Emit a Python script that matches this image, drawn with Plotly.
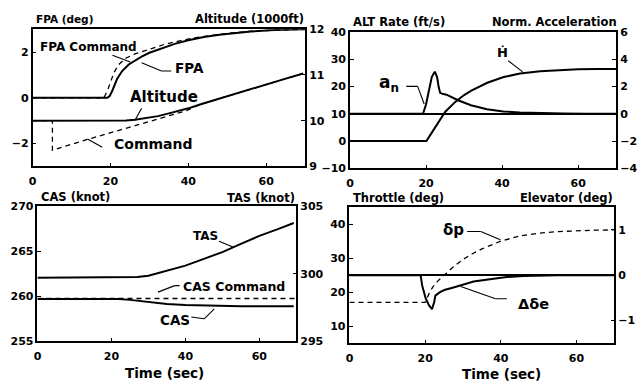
import plotly.graph_objects as go

W, H = 637, 388

# ---------------- data ----------------
# Top-left: flight path angle (deg, left) and altitude (1000 ft, right)
fpa_t = [0, 19.2, 19.8, 20.5, 21.7, 23.0, 24.7, 26.5, 28.0, 30.0, 32.0, 34.0, 36.5, 40.0, 44.0, 48.0, 52.0, 56.0, 62.0, 70.0]
fpa = [0, 0, 0.08, 0.32, 0.82, 1.17, 1.46, 1.66, 1.80, 1.97, 2.10, 2.22, 2.36, 2.52, 2.66, 2.76, 2.84, 2.90, 2.96, 3.0]
fpa_cmd_t = [0, 18.3, 19.2, 20.0, 20.9, 22.1, 23.8, 26.3, 29.7, 33.9, 38.0, 42.0, 48.0, 56.0, 62.0, 70.0]
fpa_cmd = [0, 0, 0.30, 0.72, 1.10, 1.45, 1.72, 1.92, 2.12, 2.34, 2.50, 2.63, 2.78, 2.91, 2.96, 3.0]
alt_t = [0, 20, 24, 26.3, 29, 32.2, 35, 37.3, 40, 43.2, 48.2, 52, 56, 60, 65, 69.5]
alt = [10.0, 10.0, 10.005, 10.02, 10.05, 10.10, 10.16, 10.21, 10.27, 10.36, 10.49, 10.59, 10.70, 10.79, 10.92, 11.03]
alt_cmd_t = [0, 5.1, 5.1, 13.7, 26.3, 32.2, 39.5, 43.2, 48.2, 52, 56, 60, 65, 69.5]
alt_cmd = [10.0, 10.0, 9.355, 9.58, 9.89, 10.03, 10.22, 10.36, 10.49, 10.59, 10.70, 10.79, 10.92, 11.03]

# Top-right: altitude rate (ft/s, left) and normal acceleration (right)
hdot_t = [0, 20.1, 21.6, 23.3, 25.0, 27.6, 30.0, 31.9, 34.0, 36.1, 40.4, 44.7, 50.0, 54.8, 60.0, 65.0, 70.0]
hdot = [0, 0, 3.3, 7.0, 10.7, 14.3, 16.9, 18.5, 20.1, 21.4, 23.5, 24.8, 25.6, 26.1, 26.4, 26.5, 26.5]
an_t = [0, 19.2, 20.0, 20.8, 21.5, 22.3, 22.9, 23.3, 23.7, 24.5, 25.4, 28.4, 31.8, 36.0, 40.3, 44.6, 50, 56, 62, 70]
an = [0, 0, 0.7, 1.77, 2.7, 3.1, 2.7, 2.0, 1.54, 1.45, 1.41, 1.0, 0.63, 0.34, 0.18, 0.10, 0.05, 0.02, 0.01, 0]

# Bottom-left: CAS (knot, left) and TAS (knot, right)
cas_cmd_t = [0, 70]
cas_cmd = [259.75, 259.75]
cas_t = [0, 22, 25, 28, 31, 35, 40, 46, 55, 69.3]
cas = [259.7, 259.7, 259.6, 259.45, 259.3, 259.15, 259.02, 258.95, 258.9, 258.88]
tas_t = [0, 24, 27, 30, 35, 40, 45, 50, 55, 60, 65, 69.3]
tas = [299.7, 299.7, 299.75, 299.85, 300.2, 300.6, 301.1, 301.6, 302.2, 302.8, 303.3, 303.75]

# Bottom-right: throttle (deg, left) and elevator increment (deg, right)
dp_t = [0, 20.0, 21.0, 22.0, 23.2, 25.0, 27.5, 30, 32.5, 35, 37.5, 40, 45, 50, 55, 60, 65, 70]
dp = [17, 17, 19.5, 21.5, 23.1, 24.9, 27.5, 29.6, 31.3, 32.7, 33.9, 35.0, 36.5, 37.3, 37.8, 38.1, 38.2, 38.3]
dde_t = [0, 18.8, 19.2, 20.1, 21.0, 21.8, 22.4, 22.7, 24.0, 25.3, 27.5, 29.3, 32.8, 37.1, 41.6, 46, 50, 55, 70]
dde = [0, 0, -0.22, -0.50, -0.66, -0.75, -0.59, -0.45, -0.37, -0.32, -0.27, -0.23, -0.14, -0.09, -0.04, -0.02, -0.01, 0, 0]

x_ticks = [0, 20, 40, 60]

# ---------------- figure ----------------
FONT = "DejaVu Sans"
fig = go.Figure()


def line(x, y, xa, ya, dashed=False):
    fig.add_trace(go.Scatter(
        x=x, y=y, xaxis=xa, yaxis=ya, mode="lines", showlegend=False, hoverinfo="skip",
        line=dict(color="black", width=1.3 if dashed else 2.0,
                  dash="5px,4px" if dashed else "solid")))


line(fpa_cmd_t, fpa_cmd, "x", "y", dashed=True)
line(fpa_t, fpa, "x", "y")
line(alt_cmd_t, alt_cmd, "x", "y2", dashed=True)
line(alt_t, alt, "x", "y2")

line(hdot_t, hdot, "x2", "y3")
line(an_t, an, "x2", "y4")

line(cas_cmd_t, cas_cmd, "x3", "y5", dashed=True)
line(cas_t, cas, "x3", "y5")
line(tas_t, tas, "x3", "y6")

line(dp_t, dp, "x4", "y7", dashed=True)
line(dde_t, dde, "x4", "y8")


def px(v):
    return v / W


def py(v):
    return 1 - v / H


tickfont = dict(family=FONT, size=11, color="black", weight="bold")
common = dict(showline=True, linecolor="black", linewidth=1.5, ticks="inside", ticklen=4,
              tickwidth=1.3, tickcolor="black", showgrid=False, zeroline=False,
              tickfont=tickfont, fixedrange=True)


def xax(dom, anchor):
    return dict(common, domain=dom, anchor=anchor, range=[0, 70], tickvals=x_ticks,
                mirror=True, ticklabelstandoff=4)


def yax(dom, anchor, rng, dtick, side="left", overlay=None, zero=False):
    d = dict(common, anchor=anchor, range=rng, dtick=dtick, side=side)
    if overlay:
        d["overlaying"] = overlay
    else:
        d["domain"] = dom
    if zero:
        d.update(zeroline=True, zerolinecolor="black", zerolinewidth=1.8)
    return d


xd1 = [px(29), px(306)]
yd1 = [py(166), py(24)]
xd2 = [px(351.5), px(622)]
yd2 = [py(168), py(27)]
xd3 = [px(34), px(297)]
yd3 = [py(347), py(207)]
xd4 = [px(351), px(620)]
yd4 = [py(349), py(208)]

fig.update_layout(
    width=W, height=H, margin=dict(l=0, r=0, t=0, b=0),
    paper_bgcolor="white", plot_bgcolor="white", showlegend=False,
    xaxis=xax(xd1, "y"),
    yaxis=yax(yd1, "x", [-3, 3], 2),
    yaxis2=yax(None, "x", [9, 12], 1, side="right", overlay="y"),
    xaxis2=xax(xd2, "y3"),
    yaxis3=yax(yd2, "x2", [-10, 40], 10),
    yaxis4=yax(None, "x2", [-4, 6], 2, side="right", overlay="y3", zero=True),
    xaxis3=xax(xd3, "y5"),
    yaxis5=yax(yd3, "x3", [255, 270], 5),
    yaxis6=yax(None, "x3", [295, 305], 5, side="right", overlay="y5"),
    xaxis4=xax(xd4, "y7"),
    yaxis7=yax(yd4, "x4", [5, 45], 10),
    yaxis8=yax(None, "x4", [-1.5, 1.5], 1, side="right", overlay="y7", zero=True),
)

# ---------------- axis titles (paper) ----------------
titles = [
    ("FPA (deg)", 30, 13, "left", 10.5),
    ("Altitude (1000ft)", 307, 13, "right", 11.5),
    ("ALT Rate (ft/s)", 353, 17, "left", 11.5),
    ("Norm. Acceleration", 625, 17, "right", 11.5),
    ("CAS (knot)", 36, 198, "left", 11.5),
    ("TAS (knot)", 298, 199, "right", 11.5),
    ("Throttle (deg)", 353, 199, "left", 11.5),
    ("Elevator (deg)", 621, 199, "right", 11.5),
    ("Time (sec)", 163, 380, "center", 13.5),
    ("Time (sec)", 505, 381, "center", 13.5),
]
for txt, x, y, anc, size in titles:
    fig.add_annotation(text=txt, xref="paper", yref="paper", x=px(x), y=py(y),
                       xanchor=anc, yanchor="middle", showarrow=False,
                       font=dict(family=FONT, size=size, color="black", weight="bold"))

# ---------------- curve labels (data coords) ----------------
labels = [
    ("FPA Command", "x", "y", 1.5, 2.2, "left", 12),
    ("FPA", "x", "y", 36, 1.32, "left", 13.5),
    ("Altitude", "x", "y", 24.5, 0.02, "left", 15),
    ("Command", "x", "y", 20.5, -2.02, "left", 14),
    ("a<sub>n</sub>", "x2", "y3", 7.0, 21.0, "left", 17),
    ("Ḣ", "x2", "y3", 40, 32.5, "center", 13),
    ("TAS", "x3", "y5", 45.4, 266.7, "center", 12),
    ("CAS Command", "x3", "y5", 38.9, 261.1, "left", 12.5),
    ("CAS", "x3", "y5", 32.6, 257.35, "left", 13.5),
    ("δp", "x4", "y7", 24.1, 38.3, "left", 15),
    ("Δδe", "x4", "y7", 43.9, 16.5, "left", 14.5),
]
for txt, xr, yr, x, y, anc, size in labels:
    fig.add_annotation(text=txt, xref=xr, yref=yr, x=x, y=y, xanchor=anc, yanchor="middle",
                       showarrow=False,
                       font=dict(family=FONT, size=size, color="black", weight="bold"))

# leader lines (annotation pointers)
leaders = [
    ("x", "y", [(20.5, 1.86), (25.1, 1.57)]),
    ("x", "y", [(28, 1.53), (33.1, 1.17), (35.6, 1.17)]),
    ("x", "y", [(26.3, -0.98), (28, -0.46)]),
    ("x", "y", [(14.1, -1.8), (17.9, -2.16)]),
    ("x2", "y3", [(14.8, 20.1), (17.8, 20.1), (19.5, 13.6)]),
    ("x2", "y3", [(41.6, 29.5), (45.4, 25.4)]),
    ("x3", "y5", [(49.1, 266.1), (53.2, 265.4)]),
    ("x3", "y5", [(32.6, 260.46), (37.1, 261.18), (38.4, 261.18)]),
    ("x3", "y5", [(41.6, 257.7), (45.1, 257.5), (47.8, 258.6)]),
    ("x4", "y7", [(31.1, 37.8), (34.7, 37.8), (39.9, 35.4)]),
    ("x4", "y7", [(29.4, 21.7), (38.6, 18.1), (41.6, 18.1)]),
]
for xr, yr, pts in leaders:
    for (xa, ya), (xb, yb) in zip(pts[:-1], pts[1:]):
        fig.add_shape(type="line", xref=xr, yref=yr, x0=xa, y0=ya, x1=xb, y1=yb,
                      line=dict(color="black", width=1.1))

fig.write_html("out.html")
